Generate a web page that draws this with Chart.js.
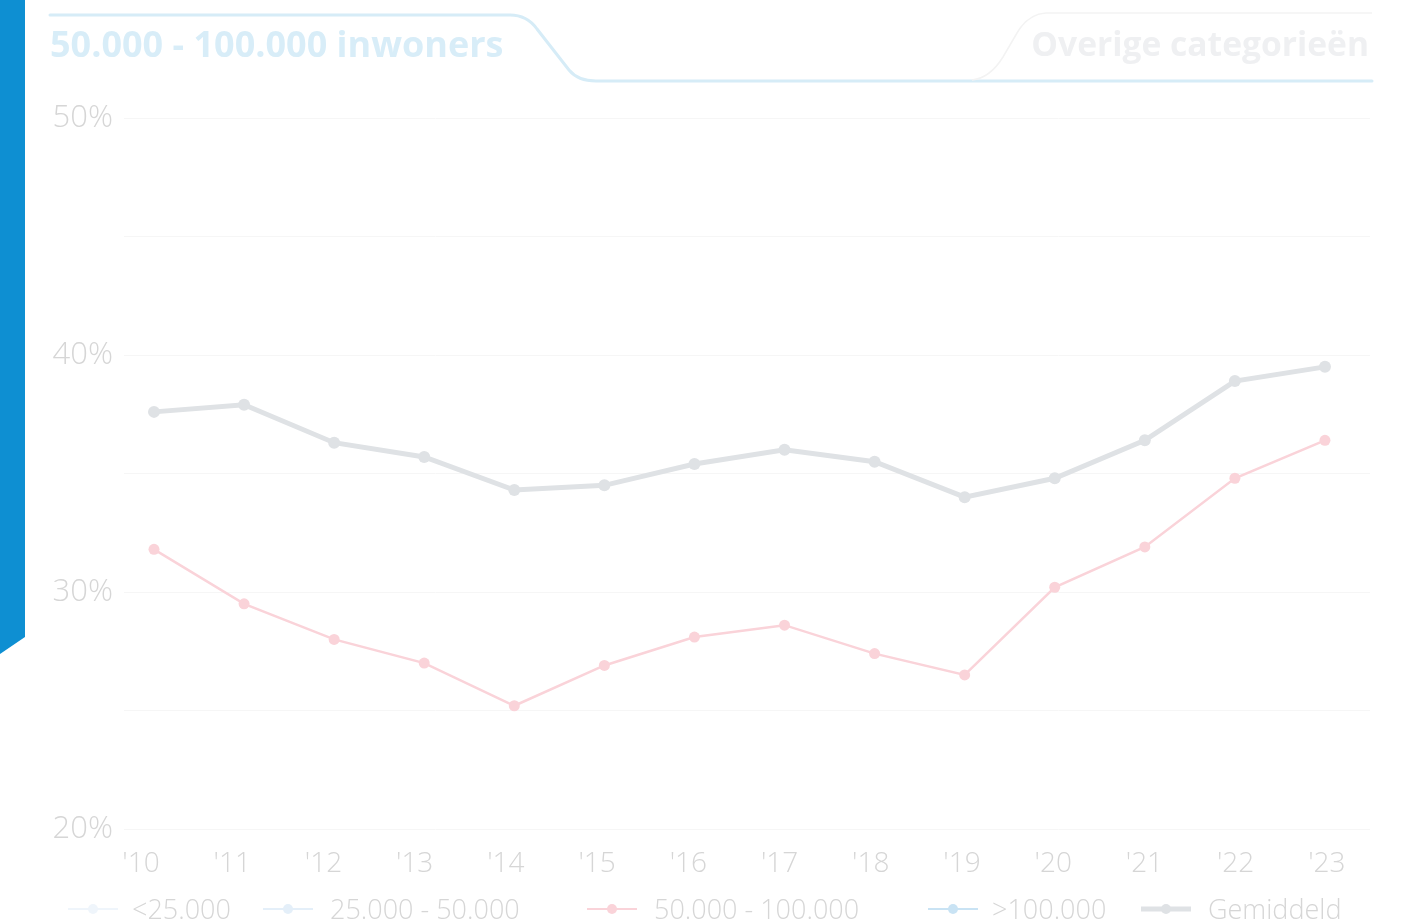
<!DOCTYPE html>
<html>
<head>
<meta charset="utf-8">
<script src="https://cdn.jsdelivr.net/npm/chart.js@4"></script>
<style>
  html, body { margin: 0; padding: 0; background: #ffffff; }
  #wrap { position: relative; width: 1404px; height: 921px; overflow: hidden; font-family: "Open Sans", "Noto Sans", sans-serif; }
  #chartBox { position: absolute; left: 0; top: 0; width: 1404px; height: 921px; }
  #bar { position: absolute; left: 0; top: 0; }
  #tabs { position: absolute; left: 0; top: 0; }
  .tab { position: absolute; font-weight: 700; line-height: 1; white-space: nowrap; }
  #tab1 { left: 50px; top: 26px; color: #d8edf8; font-size: 36px; }
  #tab2 { right: 35px; top: 27px; color: #eff0f2; font-size: 33.6px; }
  #legend { position: absolute; left: 0; top: 0; width: 1404px; height: 921px; pointer-events: none; }
  .litem { position: absolute; top: 891px; height: 36px; }
  .litem canvas { position: absolute; left: 0; top: 11px; }
  .litem span { position: absolute; top: 0; font-size: 27px; font-weight: 300; line-height: 36px; color: #d6d6d6; white-space: nowrap; }
</style>
</head>
<body>
<div id="wrap">
  <div id="chartBox"><canvas id="c"></canvas></div>
  <svg id="tabs" width="1404" height="100" viewBox="0 0 1404 100">
    <path d="M50,15 H510 Q527,15 537,29 L569,70 Q578,81 596,81 H1372" fill="none" stroke="#d6ecf7" stroke-width="3" stroke-linecap="round"/>
    <path d="M972,80 Q990,78 1003,57 L1017,33 Q1028,14 1046,13 H1372" fill="none" stroke="#f3f3f3" stroke-width="1.5"/>
  </svg>
  <svg id="bar" width="30" height="700" viewBox="0 0 30 700">
    <polygon points="0,0 25,0 25,637 0,654" fill="#0e8fd2"/>
  </svg>
  <div class="tab" id="tab1">50.000 - 100.000 inwoners</div>
  <div class="tab" id="tab2">Overige categorieën</div>
  <div id="legend"></div>
</div>
<script>
// ---- data ----
const years = ["'10", "'11", "'12", "'13", "'14", "'15", "'16", "'17", "'18", "'19", "'20", "'21", "'22", "'23"];
const seriesNames = ["<25.000", "25.000 - 50.000", "50.000 - 100.000", ">100.000", "Gemiddeld"];
const valuesLt25 = [];
const values25to50 = [];
const values50to100 = [31.8, 29.5, 28.0, 27.0, 25.2, 26.9, 28.1, 28.6, 27.4, 26.5, 30.2, 31.9, 34.8, 36.4];
const valuesGt100 = [];
const valuesAverage = [37.6, 37.9, 36.3, 35.7, 34.3, 34.5, 35.4, 36.0, 35.5, 34.0, 34.8, 36.4, 38.9, 39.5];
const yTicks = [20, 30, 40, 50];

// ---- styles ----
const colors = ["#eff5fb", "#e4eff9", "#fad3d9", "#c9e3f4", "#dfe2e5"];
const lineWidths = [2, 2, 2.5, 2, 5];
const pointRadii = [5, 5, 5.5, 5, 6];
const legendLeft = [68, 263, 587, 928, 1141];
// x tick labels sit on a slightly wider spacing than the points (layout only)
const labelStart = -0.144, labelStep = 1.0127;
const allValues = [valuesLt25, values25to50, values50to100, valuesGt100, valuesAverage];

// ---- legend (HTML) ----
const legendEl = document.getElementById('legend');
seriesNames.forEach((name, i) => {
  const item = document.createElement('div');
  item.className = 'litem';
  item.style.left = legendLeft[i] + 'px';
  const cv = document.createElement('canvas');
  cv.width = 50; cv.height = 14;
  const g = cv.getContext('2d');
  g.strokeStyle = colors[i]; g.lineWidth = i === 4 ? 5 : 2;
  g.beginPath(); g.moveTo(0, 7); g.lineTo(50, 7); g.stroke();
  g.fillStyle = colors[i];
  g.beginPath(); g.arc(25, 7, 5, 0, Math.PI * 2); g.fill();
  const sp = document.createElement('span');
  sp.textContent = name;
  sp.style.left = (name.startsWith('<') || name.startsWith('>') ? 64 : 67) + 'px';
  item.appendChild(cv);
  item.appendChild(sp);
  legendEl.appendChild(item);
});

const datasets = seriesNames.map((name, i) => ({
  label: name,
  data: allValues[i].map((v, k) => ({ x: k, y: v })),
  borderColor: colors[i],
  backgroundColor: colors[i],
  pointBackgroundColor: colors[i],
  pointBorderColor: colors[i],
  borderWidth: lineWidths[i],
  pointRadius: pointRadii[i],
  pointHoverRadius: pointRadii[i],
  pointBorderWidth: 0,
  tension: 0,
  order: i === 4 ? 1 : 0
}));

const fam = "'Open Sans', 'Noto Sans', sans-serif";

new Chart(document.getElementById('c'), {
  type: 'line',
  data: { datasets },
  options: {
    responsive: true,
    maintainAspectRatio: false,
    devicePixelRatio: 1,
    animation: false,
    layout: { padding: { top: 118, right: 34, left: 0, bottom: 37 } },
    plugins: {
      tooltip: { enabled: false },
      legend: { display: false }
    },
    scales: {
      x: {
        type: 'linear',
        min: -0.333,
        max: 13.5,
        grid: { display: false, drawTicks: false },
        border: { display: false },
        afterBuildTicks: (scale) => { scale.ticks = years.map((_, i) => ({ value: labelStart + labelStep * i })); },
        afterFit: (scale) => { scale.height = 55; },
        ticks: {
          autoSkip: false,
          maxRotation: 0,
          padding: 18,
          color: '#d6d6d6',
          font: { family: fam, size: 28, weight: 300 },
          callback: (v, idx) => years[idx]
        }
      },
      y: {
        min: 20,
        max: 50,
        grid: { color: '#f6f6f6', lineWidth: 1, drawTicks: false },
        border: { display: false },
        afterFit: (scale) => { scale.width = 124; },
        ticks: {
          stepSize: 5,
          padding: 11,
          color: '#d6d6d6',
          font: { family: fam, size: 31, weight: 300 },
          callback: (v) => yTicks.includes(v) ? v + '%' : ''
        }
      }
    }
  }
});
</script>
</body>
</html>
